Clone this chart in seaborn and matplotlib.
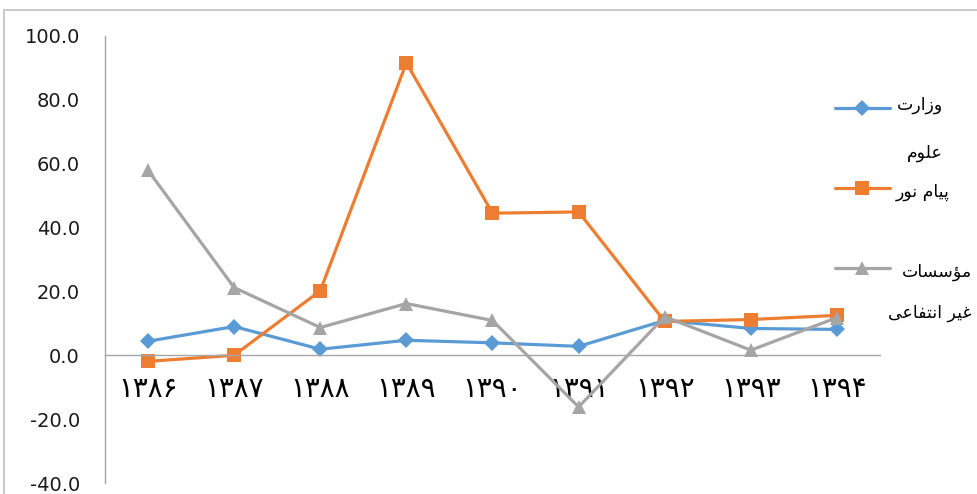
import matplotlib
matplotlib.use("Agg")
import matplotlib.pyplot as plt
from matplotlib.lines import Line2D
from matplotlib.patches import Rectangle
from matplotlib.ticker import FuncFormatter, FixedLocator
import pandas as pd
import seaborn as sns

# ---- data -------------------------------------------------------------
years = ["۱۳۸۶", "۱۳۸۷", "۱۳۸۸", "۱۳۸۹", "۱۳۹۰", "۱۳۹۱", "۱۳۹۲", "۱۳۹۳", "۱۳۹۴"]
ministry = [4.4, 9.0, 1.9, 4.7, 3.9, 2.8, 10.9, 8.4, 8.1]
payame_noor = [-1.9, 0.0, 20.2, 91.6, 44.5, 44.9, 10.6, 11.2, 12.5]
non_profit = [57.9, 21.2, 8.7, 16.2, 10.9, -16.2, 12.1, 1.6, 11.8]

series_names = ["وزارت علوم", "پیام نور", "مؤسسات غیر انتفاعی"]
legend_lines = [["وزارت", "علوم"], ["پیام نور"], ["مؤسسات", "غیر انتفاعی"]]
colors = ["#5B9BD5", "#ED7D31", "#A5A5A5"]
marker_kinds = ["D", "s", "^"]
marker_sizes = [8, 9.5, 10]

# ---- minimal Persian shaping (presentation forms, visual order) --------
FORMS = {
    "ا": ("\uFE8D", "\uFE8E", None, None),
    "ر": ("\uFEAD", "\uFEAE", None, None),
    "ز": ("\uFEAF", "\uFEB0", None, None),
    "و": ("\uFEED", "\uFEEE", None, None),
    "ؤ": ("\uFE85", "\uFE86", None, None),
    "ت": ("\uFE95", "\uFE96", "\uFE97", "\uFE98"),
    "ع": ("\uFEC9", "\uFECA", "\uFECB", "\uFECC"),
    "غ": ("\uFECD", "\uFECE", "\uFECF", "\uFED0"),
    "ف": ("\uFED1", "\uFED2", "\uFED3", "\uFED4"),
    "ل": ("\uFEDD", "\uFEDE", "\uFEDF", "\uFEE0"),
    "م": ("\uFEE1", "\uFEE2", "\uFEE3", "\uFEE4"),
    "ن": ("\uFEE5", "\uFEE6", "\uFEE7", "\uFEE8"),
    "س": ("\uFEB1", "\uFEB2", "\uFEB3", "\uFEB4"),
    "پ": ("\uFB56", "\uFB57", "\uFB58", "\uFB59"),
    "ی": ("\uFEEF", "\uFEF0", "\uFEF3", "\uFEF4"),
}


def shape(text):
    chars = list(text)
    out = []
    for i, c in enumerate(chars):
        f = FORMS.get(c)
        if f is None:
            out.append(c)
            continue
        prev = chars[i - 1] if i > 0 else None
        nxt = chars[i + 1] if i + 1 < len(chars) else None
        joins_prev = prev in FORMS and FORMS[prev][2] is not None
        joins_next = f[2] is not None and nxt in FORMS
        if joins_prev and joins_next:
            out.append(f[3])
        elif joins_prev:
            out.append(f[1])
        elif joins_next:
            out.append(f[2])
        else:
            out.append(f[0])
    return "".join(reversed(out))


# ---- figure -----------------------------------------------------------
sns.set_style("white")
plt.rcParams["font.family"] = ["DejaVu Sans"]

W, H = 978, 494
fig = plt.figure(figsize=(W / 100, H / 100), dpi=100)
top_px, bottom_px = 36, 483
ax = fig.add_axes([105 / W, 1 - bottom_px / H, (880 - 105) / W,
                   (bottom_px - top_px) / H])

positions = list(range(len(years)))
df = pd.DataFrame({
    "pos": positions * 3,
    "value": ministry + payame_noor + non_profit,
    "series": [series_names[0]] * len(years)
    + [series_names[1]] * len(years)
    + [series_names[2]] * len(years),
})

for name, col, mk, ms in zip(series_names, colors, marker_kinds, marker_sizes):
    sub = df[df["series"] == name]
    sns.lineplot(data=sub, x="pos", y="value", color=col, marker=mk,
                 markersize=ms, markeredgewidth=0, linewidth=2.3,
                 legend=False, ax=ax)

ax.set_xlim(-0.5, len(years) - 0.5)
ax.set_ylim(-40, 100)
ax.set_xlabel("")
ax.set_ylabel("")

axis_gray = "#A6A6A6"
for s in ["top", "right"]:
    ax.spines[s].set_visible(False)
ax.spines["left"].set_color(axis_gray)
ax.spines["bottom"].set_color(axis_gray)
ax.spines["bottom"].set_position(("data", 0))
ax.spines["left"].set_linewidth(1.0)
ax.spines["bottom"].set_linewidth(1.0)

ax.set_yticks(range(-40, 101, 20))
ax.yaxis.set_major_formatter(FuncFormatter(lambda v, p: f"{v:.1f}"))
ax.tick_params(axis="y", length=6, width=1, color=axis_gray, direction="out",
               pad=12, labelsize=14, labelcolor="#1a1a1a")

ax.set_xticks(positions)
ax.set_xticklabels(years)
ax.xaxis.set_minor_locator(FixedLocator([p + 0.5 for p in positions]))
ax.tick_params(axis="x", which="major", length=0, pad=14, labelsize=20,
               labelcolor="#000000")
ax.tick_params(axis="x", which="minor", length=5, width=1, color=axis_gray,
               direction="out")
ax.grid(False)

# ---- legend on the right ---------------------------------------------
handle_y = [108, 188, 268]
text_rows = [[(943, 105), (943, 153)], [(950, 192)], [(972, 272), (972, 313)]]
for col, mk, ms, hy, lines, rows in zip(colors, marker_kinds, marker_sizes,
                                        handle_y, legend_lines, text_rows):
    fy = 1 - hy / H
    fig.add_artist(Line2D([835 / W, 890 / W], [fy, fy], color=col, lw=2.3,
                          transform=fig.transFigure))
    fig.add_artist(Line2D([862 / W], [fy], color=col, marker=mk, markersize=ms,
                          markeredgewidth=0, transform=fig.transFigure))
    for txt, (tx, ty) in zip(lines, rows):
        fig.text(tx / W, 1 - ty / H, shape(txt), ha="right", va="center",
                 fontsize=12.5, color="#000000")

# chart area border
fig.add_artist(Rectangle((4 / W, -0.1), 1.2, 1.1 - 10 / H, fill=False,
                         edgecolor="#BFBFBF", linewidth=1.2,
                         transform=fig.transFigure))

fig.savefig("out.png", dpi=100)
